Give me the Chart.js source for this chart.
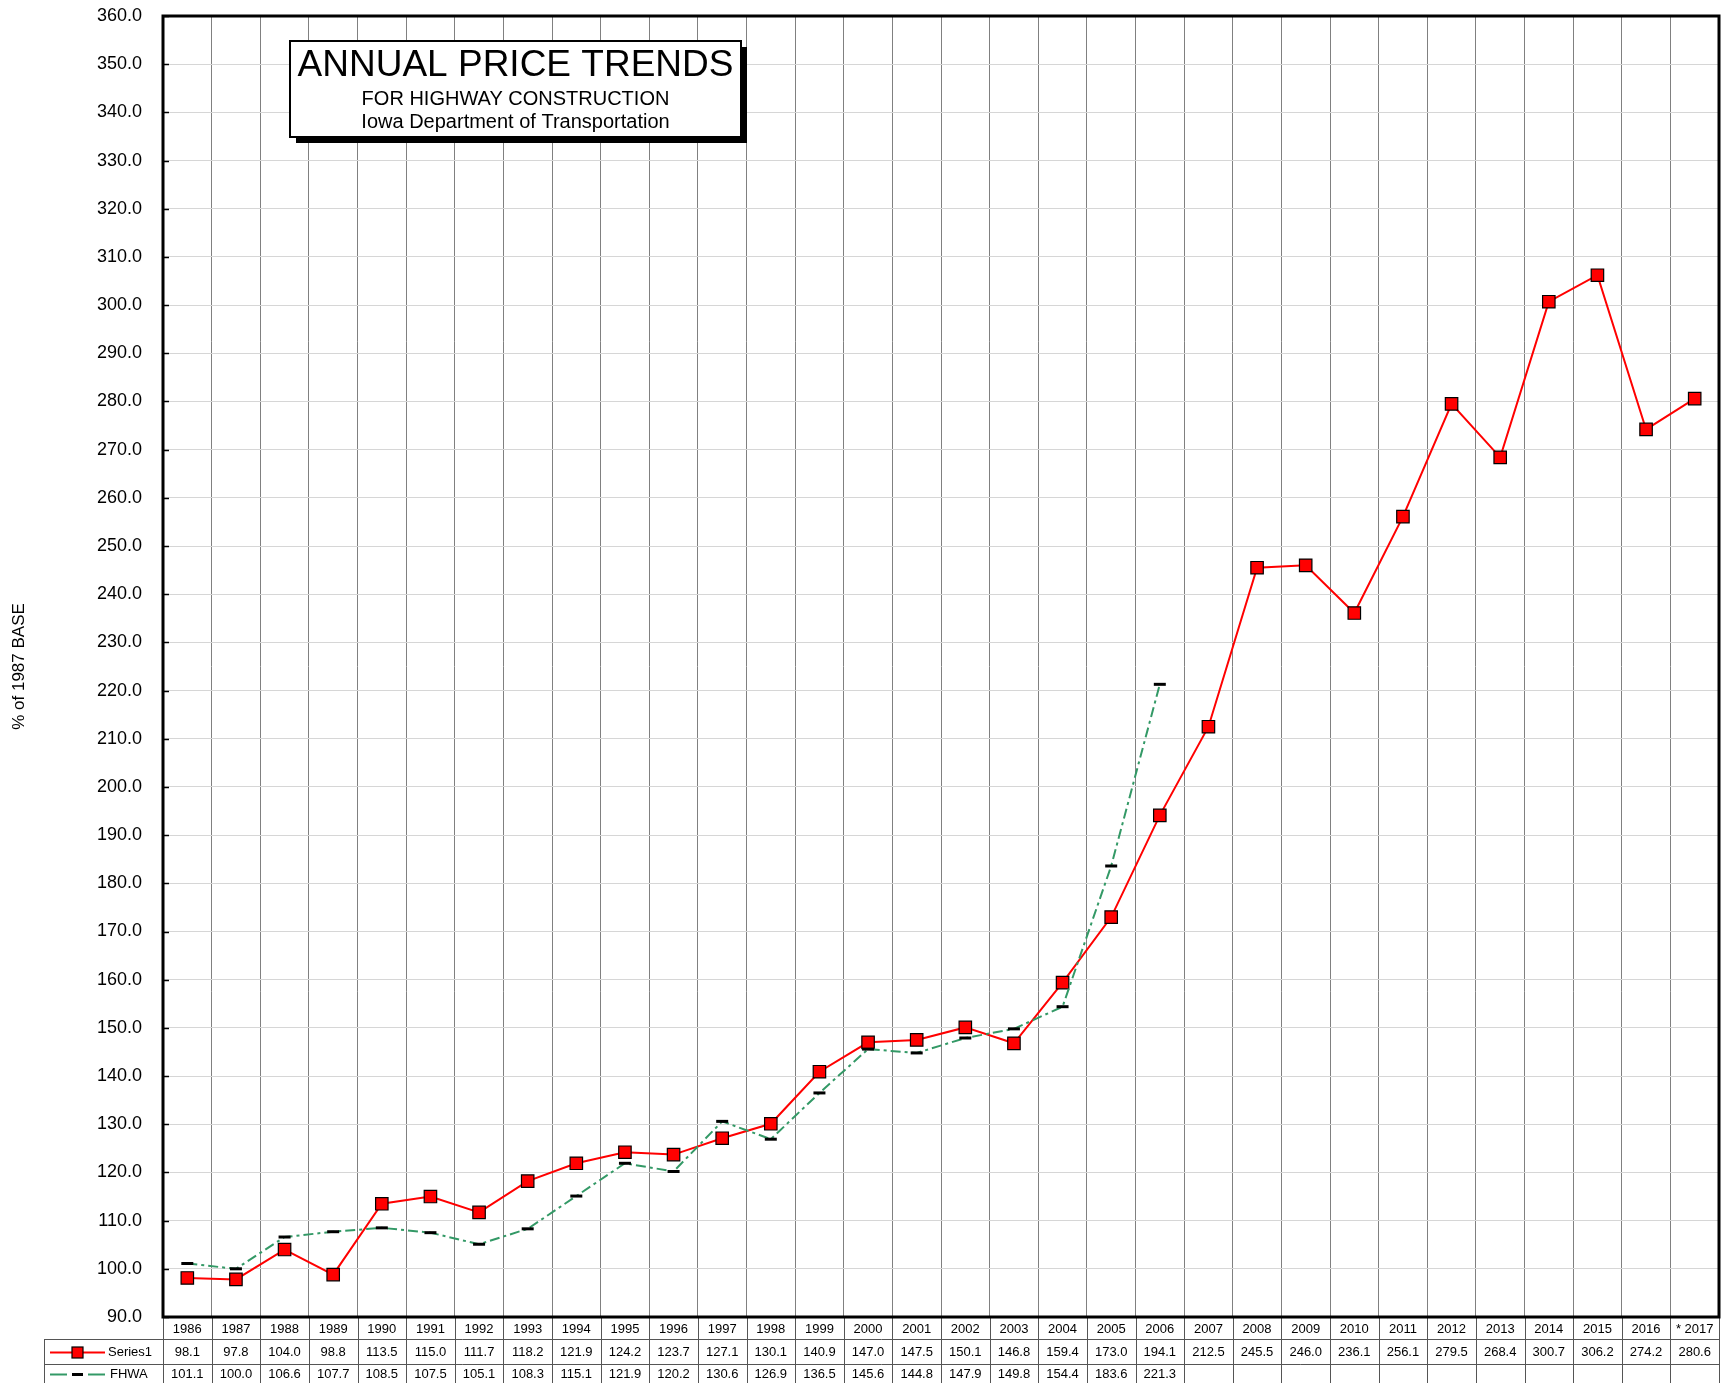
<!DOCTYPE html>
<html>
<head>
<meta charset="utf-8">
<title>Annual Price Trends</title>
<script src="https://cdn.jsdelivr.net/npm/chart.js@4.4.1/dist/chart.umd.min.js"></script>
<style>
	html, body { margin: 0; padding: 0; background: #fff; }
	#wrap { width: 1729px; height: 1383px; position: relative; }
</style>
</head>
<body>
<div id="wrap"><canvas id="graficoPrecos"></canvas></div>
<script>
var anos = ['1986', '1987', '1988', '1989', '1990', '1991', '1992', '1993', '1994', '1995', '1996',
	'1997', '1998', '1999', '2000', '2001', '2002', '2003', '2004', '2005', '2006', '2007', '2008',
	'2009', '2010', '2011', '2012', '2013', '2014', '2015', '2016', '* 2017'];

var serie1 = [98.1, 97.8, 104.0, 98.8, 113.5, 115.0, 111.7, 118.2, 121.9, 124.2, 123.7, 127.1,
	130.1, 140.9, 147.0, 147.5, 150.1, 146.8, 159.4, 173.0, 194.1, 212.5, 245.5, 246.0, 236.1,
	256.1, 279.5, 268.4, 300.7, 306.2, 274.2, 280.6];

var fhwa = [101.1, 100.0, 106.6, 107.7, 108.5, 107.5, 105.1, 108.3, 115.1, 121.9, 120.2, 130.6,
	126.9, 136.5, 145.6, 144.8, 147.9, 149.8, 154.4, 183.6, 221.3];

var nomesSeries = ['Series1', 'FHWA'];
var eixoY = { min: 90, max: 360, passo: 10, titulo: '% of 1987 BASE' };
var titulo = ['ANNUAL PRICE TRENDS', 'FOR HIGHWAY CONSTRUCTION', 'Iowa Department of Transportation'];

var fonte = '"Liberation Sans", Arial, Helvetica, sans-serif';
var vermelho = '#ff0000';
var verde = '#339966';

function linha(ctx, x1, y1, x2, y2) {
	ctx.beginPath();
	ctx.moveTo(x1, y1);
	ctx.lineTo(x2, y2);
	ctx.stroke();
}

// tabela de dados embaixo do grafico + caixa de titulo + moldura
var pluginTabela = {
	id: 'tabela',
	afterDraw: function(chart) {
		var ctx = chart.ctx;
		var area = chart.chartArea;
		var x = chart.scales.x;
		var y = chart.scales.y;
		var meia = (x.getPixelForValue(1) - x.getPixelForValue(0)) / 2;
		var topo = area.bottom;
		var l1 = topo + 22;
		var l2 = topo + 47;
		var fim = chart.height;
		var esq = 44;

		ctx.save();

		// pequenos ticks para dentro no eixo y
		ctx.strokeStyle = '#000';
		ctx.lineWidth = 1.5;
		y.ticks.forEach(function(t) {
			var py = Math.round(y.getPixelForValue(t.value)) + 0.5;
			linha(ctx, area.left, py, area.left + 6, py);
		});

		// linhas da tabela
		ctx.strokeStyle = '#555';
		ctx.lineWidth = 1;
		for (var i = 0; i <= anos.length; i++) {
			var px = i < anos.length ? x.getPixelForValue(i) - meia : x.getPixelForValue(anos.length - 1) + meia;
			px = Math.round(px) + 0.5;
			linha(ctx, px, topo, px, fim);
		}
		linha(ctx, esq, l1 + 0.5, area.right, l1 + 0.5);
		linha(ctx, esq, l2 + 0.5, area.right, l2 + 0.5);
		linha(ctx, esq + 0.5, l1, esq + 0.5, fim);

		// valores
		ctx.fillStyle = '#000';
		ctx.font = '13px ' + fonte;
		ctx.textAlign = 'center';
		ctx.textBaseline = 'middle';
		var c1 = (l1 + l2) / 2 + 1;
		var c2 = (l2 + fim) / 2 + 1;
		serie1.forEach(function(v, i) {
			ctx.fillText(v.toFixed(1), x.getPixelForValue(i), c1);
		});
		fhwa.forEach(function(v, i) {
			ctx.fillText(v.toFixed(1), x.getPixelForValue(i), c2);
		});

		// legenda dentro da tabela
		ctx.textAlign = 'left';
		ctx.fillText(nomesSeries[0], esq + 64, c1);
		ctx.fillText(nomesSeries[1], esq + 66, c2);

		ctx.strokeStyle = vermelho;
		ctx.lineWidth = 2;
		linha(ctx, esq + 6, c1, esq + 61, c1);
		ctx.fillStyle = vermelho;
		ctx.fillRect(esq + 28, c1 - 5.5, 11, 11);
		ctx.strokeStyle = '#000';
		ctx.lineWidth = 1.2;
		ctx.strokeRect(esq + 28, c1 - 5.5, 11, 11);

		ctx.strokeStyle = verde;
		ctx.lineWidth = 2;
		linha(ctx, esq + 6, c2, esq + 23, c2);
		linha(ctx, esq + 44, c2, esq + 61, c2);
		ctx.strokeStyle = '#000';
		ctx.lineWidth = 3;
		linha(ctx, esq + 28, c2, esq + 39, c2);

		// moldura grossa
		ctx.strokeStyle = '#000';
		ctx.lineWidth = 3;
		ctx.strokeRect(area.left, area.top, area.right - area.left, area.bottom - area.top);

		// caixa do titulo
		var bx = area.left + 127, by = area.top + 25, bw = 451, bh = 96;
		ctx.fillStyle = '#000';
		ctx.fillRect(bx + 6, by + 6, bw, bh);
		ctx.fillStyle = '#fff';
		ctx.fillRect(bx, by, bw, bh);
		ctx.lineWidth = 2;
		ctx.strokeRect(bx, by, bw, bh);

		ctx.fillStyle = '#000';
		ctx.textAlign = 'center';
		ctx.textBaseline = 'middle';
		ctx.font = '37px ' + fonte;
		ctx.fillText(titulo[0], bx + bw / 2, by + 25);
		ctx.font = '20px ' + fonte;
		ctx.fillText(titulo[1], bx + bw / 2, by + 58);
		ctx.fillText(titulo[2], bx + bw / 2, by + 81);

		ctx.restore();
	}
};

var dadosFhwa = fhwa.slice();
while (dadosFhwa.length < anos.length) dadosFhwa.push(null);

var grafico = new Chart(document.getElementById('graficoPrecos').getContext('2d'), {
	type: 'line',
	data: {
		labels: anos,
		datasets: [{
			label: nomesSeries[1],
			data: dadosFhwa,
			borderColor: verde,
			borderWidth: 2,
			borderDash: [10, 4, 3, 4],
			pointStyle: 'line',
			pointRadius: 6,
			pointBorderColor: '#000',
			pointBorderWidth: 3,
			tension: 0,
			fill: false
		}, {
			label: nomesSeries[0],
			data: serie1,
			borderColor: vermelho,
			borderWidth: 2,
			pointStyle: 'rect',
			pointRadius: 8.8,
			pointBackgroundColor: vermelho,
			pointBorderColor: '#000',
			pointBorderWidth: 1.2,
			tension: 0,
			fill: false
		}]
	},
	options: {
		responsive: true,
		maintainAspectRatio: false,
		animation: false,
		layout: { padding: { left: 0, top: 16, right: 4, bottom: 0 } },
		plugins: {
			legend: { display: false },
			tooltip: { enabled: false }
		},
		scales: {
			x: {
				type: 'category',
				offset: true,
				afterFit: function(s) { s.height = 66; },
				grid: { offset: true, color: '#808080', lineWidth: 1, drawTicks: false },
				border: { display: false },
				ticks: {
					autoSkip: false,
					maxRotation: 0,
					minRotation: 0,
					padding: 5,
					color: '#000',
					font: { family: fonte, size: 13 }
				}
			},
			y: {
				min: eixoY.min,
				max: eixoY.max,
				afterFit: function(s) {
					s.width = 163;
					// o padding dos ticks empurrava a area para baixo
					s.paddingTop = 11;
					s.paddingBottom = 11;
				},
				grid: { color: '#d6d6d6', lineWidth: 1, drawTicks: false },
				border: { display: false },
				title: {
					display: true,
					text: eixoY.titulo,
					color: '#000',
					padding: { top: 9, bottom: 0 },
					font: { family: fonte, size: 17 }
				},
				ticks: {
					stepSize: eixoY.passo,
					padding: 21,
					color: '#000',
					font: { family: fonte, size: 18 },
					callback: function(v) { return Number(v).toFixed(1); }
				}
			}
		}
	},
	plugins: [pluginTabela]
});
</script>
</body>
</html>
